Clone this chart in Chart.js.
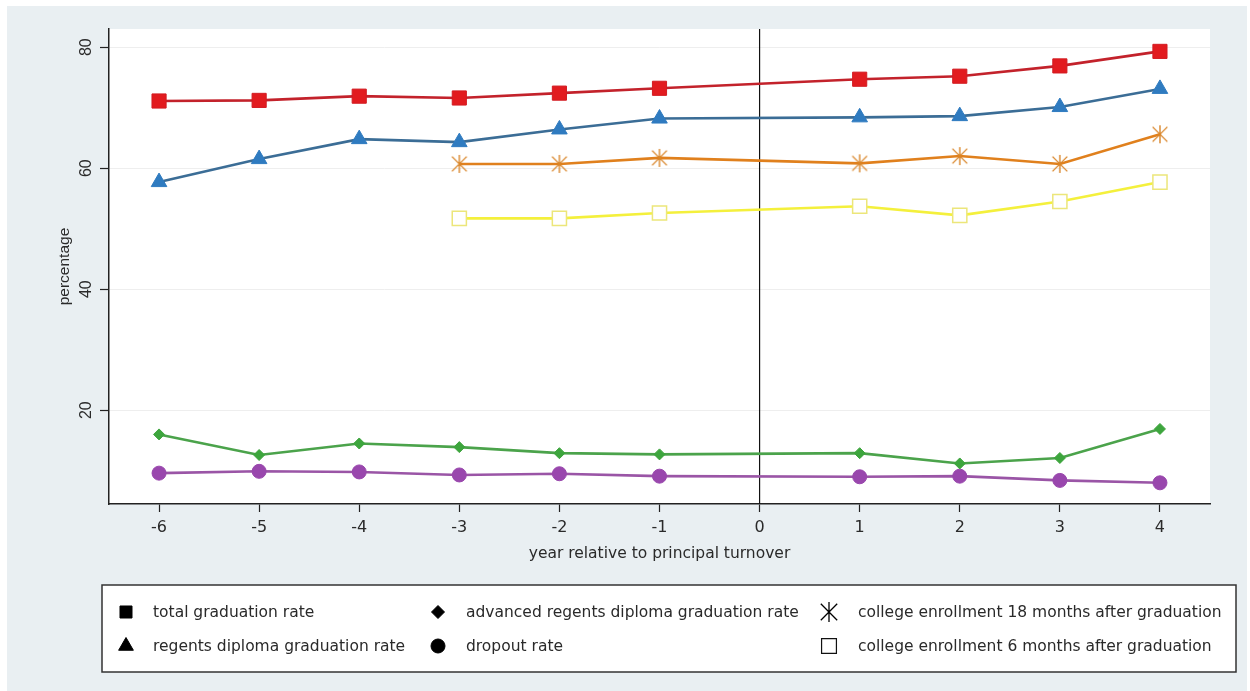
<!DOCTYPE html>
<html>
<head>
<meta charset="utf-8">
<script src="https://cdn.jsdelivr.net/npm/chart.js@4/dist/chart.umd.min.js"></script>
<style>
  html, body { margin: 0; padding: 0; background: #ffffff; }
  #grafik { display: block; }
</style>
</head>
<body>
<canvas id="grafik" width="1250" height="691"></canvas>
<script>
// Jahre relativ zum Schulleiterwechsel (kein Wert bei 0)
const jahre = [-6, -5, -4, -3, -2, -1, 1, 2, 3, 4];
const gesamtAbschluss = [71.1, 71.2, 71.9, 71.6, 72.4, 73.2, 74.7, 75.2, 76.9, 79.3];
const regentsAbschluss = [57.7, 61.5, 64.8, 64.3, 66.4, 68.2, 68.4, 68.6, 70.1, 73.1];
const advancedRegents = [16.0, 12.6, 14.5, 13.9, 12.9, 12.7, 12.9, 11.2, 12.1, 16.9];
const abbrecher = [9.6, 9.9, 9.8, 9.3, 9.5, 9.1, 9.0, 9.1, 8.4, 8.0];
const college18 = [null, null, null, 60.7, 60.7, 61.7, 60.8, 62.0, 60.7, 65.6];
const college6 = [null, null, null, 51.7, 51.7, 52.6, 53.7, 52.2, 54.5, 57.7];

const xTicks = [-6, -5, -4, -3, -2, -1, 0, 1, 2, 3, 4];
const yTicks = [20, 40, 60, 80];
const wechselJahr = 0;

// waagrechte Texte sind im Bild breiter gezogen -> DejaVu Sans
const schriftQuer = "'DejaVu Sans', sans-serif";
const schriftHoch = "'Liberation Sans', Arial, sans-serif";
const groesseQuer = 15.5;

function punkte(werte) {
    return jahre.map((x, i) => ({ x: x, y: werte[i] }));
}

// Sternchen wie bei Stata: senkrechter Strich plus X
function sternBild(farbe, groesse, breite) {
    const c = document.createElement("canvas");
    c.width = groesse;
    c.height = groesse;
    const g = c.getContext("2d");
    const m = groesse / 2;
    const r = groesse / 2 - 1;
    const d = r * 0.82;
    g.strokeStyle = farbe;
    g.lineWidth = breite;
    g.beginPath();
    g.moveTo(m, m - r);
    g.lineTo(m, m + r);
    g.moveTo(m - d, m - d);
    g.lineTo(m + d, m + d);
    g.moveTo(m + d, m - d);
    g.lineTo(m - d, m + d);
    g.stroke();
    return c;
}

const sternOrange = sternBild("#d9862a", 20, 1.4);
const sternSchwarz = sternBild("#000000", 22, 1.3);

const data = {
    datasets: [
        {
            label: "total graduation rate",
            data: punkte(gesamtAbschluss),
            borderColor: "#c3222b",
            backgroundColor: "#e21b1f",
            pointBorderColor: "#d21c22",
            pointStyle: "rect",
            pointRadius: 10,
            legende: { style: "rect", r: 8.5 },
        },
        {
            label: "regents diploma graduation rate",
            data: punkte(regentsAbschluss),
            borderColor: "#3b6d96",
            backgroundColor: "#2f7bc0",
            pointBorderColor: "#2f7bc0",
            pointStyle: "triangle",
            pointRadius: 9,
            legende: { style: "triangle", r: 8.5 },
        },
        {
            label: "advanced regents diploma graduation rate",
            data: punkte(advancedRegents),
            borderColor: "#4ba34b",
            backgroundColor: "#3da53d",
            pointBorderColor: "#3da53d",
            pointStyle: "rectRot",
            pointRadius: 5.5,
            legende: { style: "rectRot", r: 6.5 },
        },
        {
            label: "dropout rate",
            data: punkte(abbrecher),
            borderColor: "#9a55a6",
            backgroundColor: "#9947ad",
            pointBorderColor: "#9947ad",
            pointStyle: "circle",
            pointRadius: 7,
            legende: { style: "circle", r: 7 },
        },
        {
            label: "college enrollment 18 months after graduation",
            data: punkte(college18),
            borderColor: "#e0801d",
            backgroundColor: "#d9862a",
            pointStyle: sternOrange,
            pointRadius: 10,
            legende: { style: "stern", r: 11 },
        },
        {
            label: "college enrollment 6 months after graduation",
            data: punkte(college6),
            borderColor: "#f4f03c",
            backgroundColor: "#ffffff",
            pointBorderColor: "#ece67a",
            pointBorderWidth: 1.5,
            pointStyle: "rect",
            pointRadius: 10,
            legende: { style: "rectHohl", r: 10.5 },
        },
        {
            label: "wechsel",
            data: [{ x: wechselJahr, y: 4.5 }, { x: wechselJahr, y: 83 }],
            borderColor: "#111111",
            borderWidth: 1.2,
            pointRadius: 0,
            ohneLegende: true,
        },
    ],
};

data.datasets.forEach((d) => {
    if (d.borderWidth === undefined) d.borderWidth = 2.6;
    if (d.pointBorderWidth === undefined) d.pointBorderWidth = 1;
    d.fill = false;
    d.tension = 0;
    d.spanGaps = false;
});

const hintergrund = {
    id: "hintergrund",
    beforeDraw(chart) {
        const ctx = chart.ctx;
        const a = chart.chartArea;
        ctx.save();
        ctx.fillStyle = "#ffffff";
        ctx.fillRect(0, 0, chart.width, chart.height);
        ctx.fillStyle = "#e9eff2";
        ctx.fillRect(7, 6, 1240, 685);
        ctx.fillStyle = "#ffffff";
        ctx.fillRect(a.left, a.top, a.right - a.left, a.bottom - a.top);
        ctx.restore();
    },
    afterDraw(chart) {
        const ctx = chart.ctx;
        const y = chart.scales.y;
        // senkrechte Tick-Beschriftung der y-Achse
        ctx.save();
        ctx.fillStyle = "#2a2a2a";
        ctx.font = "16px " + schriftHoch;
        ctx.textAlign = "center";
        ctx.textBaseline = "middle";
        y.ticks.forEach((t) => {
            ctx.save();
            ctx.translate(87, y.getPixelForValue(t.value));
            ctx.rotate(-Math.PI / 2);
            ctx.fillText(String(t.value), 0, 0);
            ctx.restore();
        });
        ctx.restore();

        // Legende
        ctx.save();
        ctx.fillStyle = "#ffffff";
        ctx.fillRect(102, 585, 1134, 87);
        ctx.strokeStyle = "#333333";
        ctx.lineWidth = 1.5;
        ctx.strokeRect(102, 585, 1134, 87);
        const spalteMarke = [126, 438, 829];
        const spalteText = [153, 466, 858];
        const zeilen = [612, 646];
        ctx.font = groesseQuer + "px " + schriftQuer;
        ctx.textBaseline = "middle";
        ctx.textAlign = "left";
        chart.data.datasets.filter((d) => !d.ohneLegende).forEach((d, i) => {
            const sp = Math.floor(i / 2);
            const ze = i % 2;
            const mx = spalteMarke[sp];
            const my = zeilen[ze];
            const l = d.legende;
            if (l.style === "stern") {
                ctx.drawImage(sternSchwarz, mx - 11, my - 11, 22, 22);
            } else if (l.style === "rectHohl") {
                ctx.fillStyle = "#ffffff";
                ctx.strokeStyle = "#111111";
                ctx.lineWidth = 1.2;
                Chart.helpers.drawPoint(ctx, { pointStyle: "rect", radius: l.r, borderWidth: 1.2 }, mx, my);
            } else {
                ctx.fillStyle = "#000000";
                ctx.strokeStyle = "#000000";
                ctx.lineWidth = 1;
                Chart.helpers.drawPoint(ctx, { pointStyle: l.style, radius: l.r, borderWidth: 1 }, mx, my);
            }
            ctx.fillStyle = "#2a2a2a";
            ctx.fillText(d.label, spalteText[sp], my + 1);
        });
        ctx.restore();
    },
};

new Chart(document.getElementById("grafik"), {
    type: "line",
    data: data,
    plugins: [hintergrund],
    options: {
        responsive: false,
        animation: false,
        devicePixelRatio: 1,
        layout: { padding: { left: 0, top: 29, right: 40, bottom: 126 } },
        plugins: {
            legend: { display: false },
            tooltip: { enabled: false },
        },
        scales: {
            x: {
                type: "linear",
                min: -6.5,
                max: 4.5,
                afterBuildTicks: (s) => { s.ticks = xTicks.map((v) => ({ value: v })); },
                afterFit: (s) => { s.height = 61; },
                grid: {
                    drawOnChartArea: false,
                    drawTicks: true,
                    tickLength: 8,
                    tickColor: "#222222",
                    tickWidth: 1.2,
                },
                border: { color: "#222222", width: 1.5 },
                ticks: {
                    color: "#2a2a2a",
                    font: { family: schriftQuer, size: 16 },
                    padding: 6,
                    maxRotation: 0,
                    autoSkip: false,
                },
                title: {
                    display: true,
                    text: "year relative to principal turnover",
                    color: "#2a2a2a",
                    font: { family: schriftQuer, size: groesseQuer },
                    padding: { top: 2, bottom: 2 },
                },
            },
            y: {
                type: "linear",
                min: 4.5,
                max: 83,
                afterBuildTicks: (s) => { s.ticks = yTicks.map((v) => ({ value: v })); },
                afterFit: (s) => { s.width = 109; },
                grid: {
                    color: "#eeeeee",
                    lineWidth: 1,
                    drawTicks: true,
                    tickLength: 9,
                    tickColor: "#222222",
                    tickWidth: 1.2,
                },
                border: { color: "#222222", width: 1.5 },
                ticks: { display: false },
                title: {
                    display: true,
                    text: "percentage",
                    color: "#2a2a2a",
                    font: { family: schriftHoch, size: 15.5 },
                    padding: { top: 55, bottom: 0 },
                },
            },
        },
    },
});
</script>
</body>
</html>
